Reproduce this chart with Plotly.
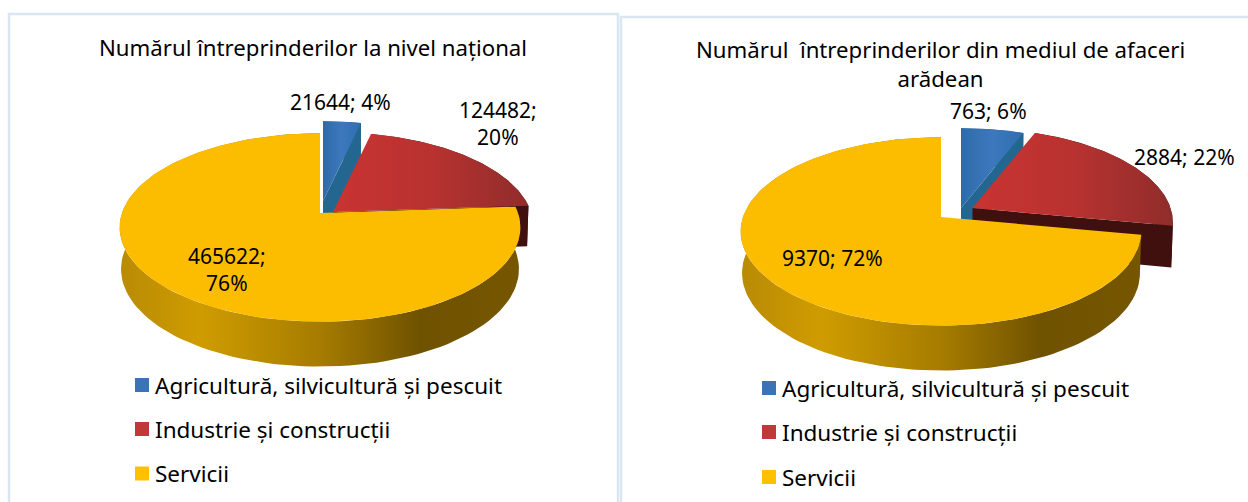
import math
import plotly.graph_objects as go

categories = ["Agricultură, silvicultură și pescuit", "Industrie și construcții", "Servicii"]
national_values = [21644, 124482, 465622]
arad_values = [763, 2884, 9370]
national_title = "Numărul întreprinderilor la nivel național"
arad_title = "Numărul  întreprinderilor din mediul de afaceri<br>arădean"

FONT = "Noto Sans"
TOP = [
    [[0, "#2f6aa8"], [0.5, "#3d78bd"], [1, "#2f6db0"]],
    [[0, "#c93432"], [0.5, "#b83230"], [1, "#8f2d2b"]],
    None,
]
SOLID = ["#3a74b6", "#c0393a", "#ffc000"]
TOPSOLID = "#fcbd00"
CUT = ["#23668f", "#40100f", "#8a6600"]
WALL_SCALE = [[0, "#b98a05"], [0.2, "#cf9c00"], [0.5, "#a67c00"], [0.75, "#6f5200"], [1, "#765600"]]
WALL_RED = "#4a1212"
WALL_BLUE = "#23668f"

R, A, K = 198, 92, 0.153


def project(theta, tx, ty):
    X, Y = math.sin(theta), math.cos(theta)
    d = 1 + K * Y
    return tx + R * X / d, ty - A * Y / d


def lower(px, py, theta, tx):
    Y = math.cos(theta)
    return tx + (px - tx) * 0.993, py + 41 - 4 * Y


def poly(x, y, color=None, grad=None):
    kw = dict(x=x, y=y, mode="lines", line=dict(width=0), fill="toself",
              hoverinfo="skip", showlegend=False)
    if grad:
        kw["fillgradient"] = dict(type="horizontal", colorscale=grad)
        kw["fillcolor"] = "rgba(0,0,0,0)"
    else:
        kw["fillcolor"] = color
    return go.Scatter(**kw)


def draw_pie(fig, values, tips):
    total = sum(values)
    acc = 0
    for i, v in enumerate(values):
        t0 = 2 * math.pi * acc / total
        acc += v
        t1 = 2 * math.pi * acc / total
        tx, ty = tips[i]
        n = 120
        th = [t0 + (t1 - t0) * j / n for j in range(n + 1)]
        top = [project(t, tx, ty) for t in th]
        low = [lower(p[0], p[1], t, tx) for p, t in zip(top, th)]
        # outer wall
        wx = [p[0] for p in top] + [p[0] for p in reversed(low)]
        wy = [p[1] for p in top] + [p[1] for p in reversed(low)]
        if i == 2:
            fig.add_trace(poly(wx, wy, grad=WALL_SCALE))
        else:
            fig.add_trace(poly(wx, wy, color=WALL_RED if i == 1 else WALL_BLUE))
            # cut wall at the trailing edge of the slice
            e = top[-1]
            f = low[-1]
            fig.add_trace(poly([tx, e[0], f[0], tx], [ty, e[1], f[1], ty + 41], color=CUT[i]))
        # top face
        fx = [tx] + [p[0] for p in top] + [tx]
        fy = [ty] + [p[1] for p in top] + [ty]
        if i == 2:
            fig.add_trace(poly(fx, fy, color=TOPSOLID))
        else:
            fig.add_trace(poly(fx, fy, grad=TOP[i]))


def label(values, i):
    pct = round(100 * values[i] / sum(values))
    return f"{values[i]}; {pct}%"


def text(x, y, s, size, anchor="center"):
    fig.add_annotation(x=x, y=y, text=s, showarrow=False, xref="x", yref="y", xanchor=anchor,
                       yanchor="middle", align="center",
                       font=dict(family=FONT, size=size, color="#000000"))


fig = go.Figure()

draw_pie(fig, national_values, [(323, 201), (333, 212), (320, 213)])
draw_pie(fig, arad_values, [(961, 208), (972.5, 208), (941, 217)])

# panel frames
for x0, y0, x1, y1 in [(9, 14, 618, 510), (621, 17, 1260, 510)]:
    fig.add_shape(type="rect", x0=x0, y0=y0, x1=x1, y1=y1, xref="x", yref="y",
                  line=dict(color="#dbe6f3", width=2.5), fillcolor="rgba(0,0,0,0)", layer="below")

# titles
text(313, 47, national_title, 22.2)
fig.add_annotation(x=940, y=64, text=arad_title, showarrow=False, xref="x", yref="y",
                   font=dict(family=FONT, size=22.2, color="#000000"), align="center",
                   xanchor="center", yanchor="middle")

# data labels
text(340, 102, label(national_values, 0), 21)
text(498, 123, label(national_values, 1).replace("; ", ";<br>"), 21)
text(227, 269, label(national_values, 2).replace("; ", ";<br>"), 21)
text(988, 111, label(arad_values, 0), 21)
text(1184, 157, label(arad_values, 1), 21)
text(832, 258, label(arad_values, 2), 21)

# key
for (mx, tx, rows) in [(142, 153, [385, 429, 473.5]), (769, 780, [388, 432, 477])]:
    for i, name in enumerate(categories):
        fig.add_trace(go.Scatter(x=[mx], y=[rows[i]], mode="markers", hoverinfo="skip", showlegend=False,
                                 marker=dict(symbol="square", size=14, color=SOLID[i], line=dict(width=0))))
        text(tx, rows[i], name, 22.5, anchor="left")

fig.update_layout(
    width=1248, height=502, margin=dict(l=0, r=0, t=0, b=0), autosize=False,
    paper_bgcolor="#ffffff", plot_bgcolor="#ffffff", showlegend=False,
    xaxis=dict(range=[0, 1248], visible=False, fixedrange=True),
    yaxis=dict(range=[502, 0], visible=False, fixedrange=True),
)
fig.write_html("out.html", config={"displayModeBar": False},
               post_script="document.body.style.margin='0';document.documentElement.style.overflow='hidden';")
